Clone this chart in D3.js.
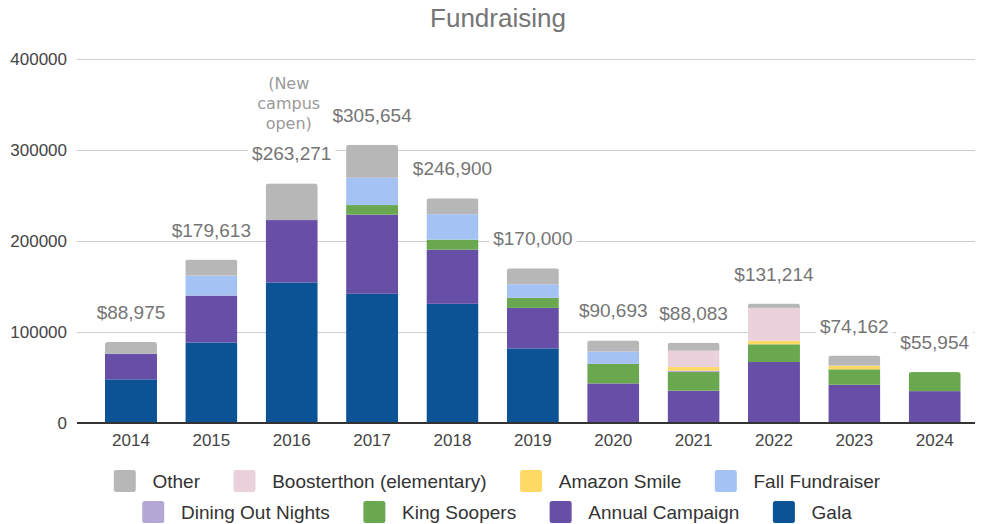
<!DOCTYPE html>
<html>
<head>
<meta charset="utf-8">
<script src="https://cdn.jsdelivr.net/npm/d3@7"></script>
<style>
  html, body { margin: 0; padding: 0; background: #fff; }
  svg { display: block; font-family: "Liberation Sans", Arial, sans-serif; }
</style>
</head>
<body>
<svg id="chart" width="986" height="524"></svg>
<script>
// Fundraising totals by year, split by source
const years = ["2014","2015","2016","2017","2018","2019","2020","2021","2022","2023","2024"];
const totals = [88975, 179613, 263271, 305654, 246900, 170000, 90693, 88083, 131214, 74162, 55954];

// Series, bottom of the stack first
const gala            = [48000, 88500, 154500, 142000, 131000, 82000,     0,     0,     0,     0,     0];
const annualCampaign  = [28000, 51500,  68500,  87000,  59500, 44500, 43500, 35500, 67000, 42000, 35000];
const kingSoopers     = [    0,     0,      0,  10500,  11000, 11000, 21500, 20500, 19500, 17000, 20954];
const diningOutNights = [    0,     0,      0,      0,      0,     0,     0,  1500,     0,     0,     0];
const fallFundraiser  = [    0, 22000,      0,  30000,  28000, 15000, 13500,     0,     0,     0,     0];
const amazonSmile     = [    0,     0,      0,      0,      0,     0,     0,  4000,  4000,  4000,     0];
const boosterthon     = [    0,     0,      0,      0,      0,     0,     0, 18000, 36000,     0,     0];
const other           = [12975, 17613,  40271,  36154,  17400, 17500, 12193,  8583,  4714, 11162,     0];

const yTicks = [0, 100000, 200000, 300000, 400000];
const noteLines = ["(New", "campus", "open)"];
const noteYear = "2016";

const series = [
  { name: "Gala",                    values: gala,            color: "#0b5394" },
  { name: "Annual Campaign",         values: annualCampaign,  color: "#674ea7" },
  { name: "King Soopers",            values: kingSoopers,     color: "#6aa84f" },
  { name: "Dining Out Nights",       values: diningOutNights, color: "#b4a7d6" },
  { name: "Fall Fundraiser",         values: fallFundraiser,  color: "#a4c2f4" },
  { name: "Amazon Smile",            values: amazonSmile,     color: "#ffd966" },
  { name: "Boosterthon (elementary)",values: boosterthon,     color: "#ead1dc" },
  { name: "Other",                   values: other,           color: "#b7b7b7" }
];

const svg = d3.select("#chart");
const plotLeft = 77, plotRight = 975;

const x = d3.scaleBand().domain(years).range([90.8, 974.9]).paddingInner(0.353).paddingOuter(0.1765);
const y = d3.scaleLinear().domain([0, 400000]).range([423, 59]);

// Title
svg.append("text")
  .attr("x", 498).attr("y", 27)
  .attr("text-anchor", "middle")
  .attr("font-size", 26).attr("fill", "#757575")
  .text("Fundraising");

// Gridlines and value axis labels
const grid = svg.append("g");
grid.selectAll("line").data(yTicks.filter(d => d > 0)).join("line")
  .attr("x1", plotLeft).attr("x2", plotRight)
  .attr("y1", d => Math.round(y(d)) + 0.5).attr("y2", d => Math.round(y(d)) + 0.5)
  .attr("stroke", "#cccccc").attr("stroke-width", 1);

const yAxis = d3.axisLeft(y).tickValues(yTicks).tickSize(0).tickPadding(0).tickFormat(d3.format("d"));
const yg = svg.append("g").attr("transform", `translate(67,0)`).call(yAxis);
yg.select(".domain").remove();
yg.selectAll("text").attr("font-size", 17).attr("fill", "#444").attr("font-family", "Liberation Sans, Arial, sans-serif");

// Stacked bars
const table = years.map((yr, i) => {
  const row = { year: yr };
  series.forEach(s => row[s.name] = s.values[i]);
  return row;
});
const stack = d3.stack().keys(series.map(s => s.name));
const layers = stack(table);

const defs = svg.append("defs");
years.forEach((yr, i) => {
  defs.append("clipPath").attr("id", "clip-" + yr)
    .append("rect")
    .attr("x", x(yr)).attr("width", x.bandwidth())
    .attr("y", y(totals[i])).attr("height", y(0) - y(totals[i]) + 6)
    .attr("rx", 3).attr("ry", 3);
});

const bars = svg.append("g");
layers.forEach((layer, li) => {
  bars.append("g").attr("fill", series[li].color)
    .selectAll("rect")
    .data(layer.filter(d => d[1] - d[0] > 0))
    .join("rect")
    .attr("clip-path", d => `url(#clip-${d.data.year})`)
    .attr("x", d => x(d.data.year))
    .attr("width", x.bandwidth())
    .attr("y", d => y(d[1]))
    .attr("height", d => y(d[0]) - y(d[1]));
});

// Baseline
svg.append("line")
  .attr("x1", plotLeft).attr("x2", plotRight)
  .attr("y1", y(0)).attr("y2", y(0))
  .attr("stroke", "#333").attr("stroke-width", 2);

// Category axis labels
const xAxis = d3.axisBottom(x).tickSize(0).tickPadding(0);
const xg = svg.append("g").attr("transform", `translate(0,${y(0) + 11})`).call(xAxis);
xg.select(".domain").remove();
xg.selectAll("text").attr("font-size", 17).attr("fill", "#444").attr("font-family", "Liberation Sans, Arial, sans-serif");

// Total labels with a white backing that interrupts gridlines
const fmt = v => "$" + d3.format(",")(v);
const labels = svg.append("g");
years.forEach((yr, i) => {
  const g = labels.append("g");
  const t = g.append("text")
    .attr("x", x(yr) + x.bandwidth() / 2)
    .attr("y", y(totals[i]) - 23)
    .attr("text-anchor", "middle")
    .attr("font-size", 19).attr("fill", "#757575")
    .text(fmt(totals[i]));
  const b = t.node().getBBox();
  g.insert("rect", "text")
    .attr("x", b.x - 4).attr("y", b.y).attr("width", b.width + 8).attr("height", b.height)
    .attr("fill", "#fff");
});

// Note above the 2016 total, one line per text element
const noteX = x(noteYear) + x.bandwidth() / 2 - 3;
svg.append("g").selectAll("text").data(noteLines).join("text")
  .attr("x", noteX)
  .attr("y", (d, i) => 89 + i * 20)
  .attr("text-anchor", "middle")
  .attr("font-family", "'DejaVu Sans', sans-serif")
  .attr("font-size", 16).attr("fill", "#9a9a9a")
  .text(d => d);

// Legend: two centred rows, top-of-stack series first
const legendOrder = series.slice().reverse();
const rows = [legendOrder.slice(0, 4), legendOrder.slice(4)];
const rowY = [481, 512];
const sw = 22, textOff = 38.7, itemGap = 33.5, legendCenter = 497;
const legend = svg.append("g");
rows.forEach((row, ri) => {
  const g = legend.append("g");
  const items = row.map(s => {
    const ig = g.append("g");
    ig.append("rect").attr("width", sw).attr("height", sw).attr("rx", 2.5)
      .attr("y", -sw / 2).attr("fill", s.color);
    const t = ig.append("text").attr("x", textOff).attr("y", 0).attr("dy", "0.35em")
      .attr("font-size", 19).attr("fill", "#333").text(s.name);
    return { g: ig, w: textOff + t.node().getComputedTextLength() };
  });
  const total = d3.sum(items, d => d.w) + itemGap * (items.length - 1);
  let cx = legendCenter - total / 2;
  items.forEach(it => {
    it.g.attr("transform", `translate(${cx},${rowY[ri]})`);
    cx += it.w + itemGap;
  });
});
</script>
</body>
</html>
